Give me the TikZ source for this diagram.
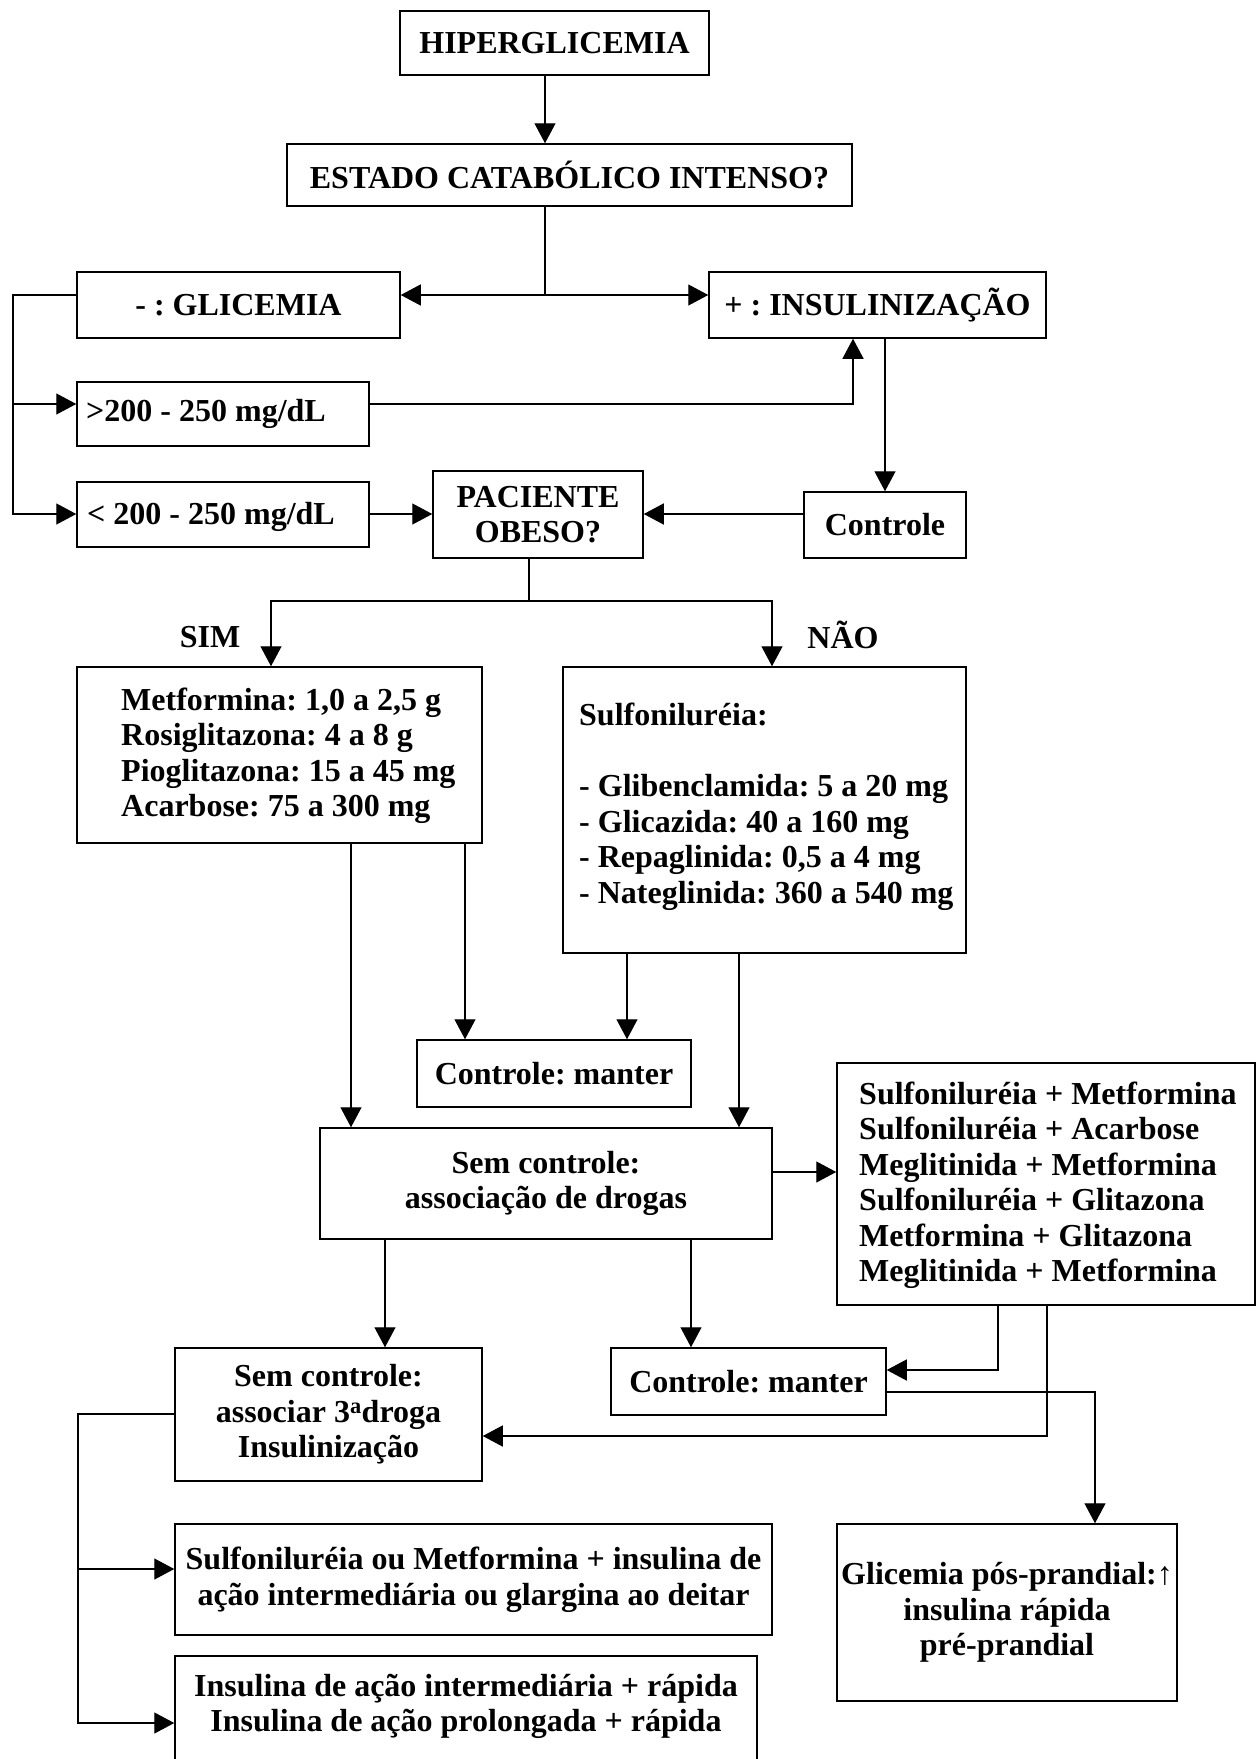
\documentclass[tikz,border=0pt]{standalone}
\usepackage{fontspec}
\setmainfont{Liberation Serif}
\usetikzlibrary{arrows.meta}
\frenchspacing
\begin{document}
\begin{tikzpicture}[x=1pt,y=-1pt,
  box/.style={draw, line width=1.5pt, inner sep=0pt, align=center, font=\bfseries\fontsize{32}{35.5}\selectfont},
  txt/.style={inner sep=0pt, align=left, font=\bfseries\fontsize{32}{35.5}\selectfont},
  conn/.style={line width=1.3pt},
  arr/.style={conn, -{Triangle[length=20pt,width=21pt]}},
]
\fill[white] (0,0) rectangle (1257,1759);
\useasboundingbox (0,0) rectangle (1257,1759);

% boxes
\node[box, minimum width=309pt, minimum height=64pt] (hip) at (554.5,43) {HIPERGLICEMIA};
\node[box, minimum width=565pt, minimum height=62pt] (est) at (569.5,175) {ESTADO CATABÓLICO INTENSO?};
\node[box, minimum width=323pt, minimum height=66pt] (glic) at (238.5,305) {- : GLICEMIA};
\node[box, minimum width=337pt, minimum height=66pt] (ins) at (877.5,305) {+ : INSULINIZAÇÃO};
\node[box, minimum width=292pt, minimum height=64pt] (gt) at (223,414) {};
\node[txt, anchor=west] (gttext) at (86,414) {>200 - 250 mg/dL};
\node[box, minimum width=292pt, minimum height=65pt] (lt) at (223,514.5) {};
\node[txt, anchor=west] (lttext) at (87,517) {< 200 - 250 mg/dL};
\node[box, minimum width=210pt, minimum height=87pt] (pac) at (538,514.5) {PACIENTE\\OBESO?};
\node[box, minimum width=162pt, minimum height=66pt] (ctl) at (885,525) {Controle};

\node[txt] (simlbl) at (210,637) {SIM};
\node[txt] (naolbl) at (843,635) {NÃO};

\node[box, minimum width=405pt, minimum height=176pt] (sim) at (279.5,755) {};
\node[txt, anchor=west] (simtext) at (121,756) {Metformina: 1,0 a 2,5 g\\Rosiglitazona: 4 a 8 g\\Pioglitazona: 15 a 45 mg\\Acarbose: 75 a 300 mg};
\node[box, minimum width=403pt, minimum height=286pt] (nao) at (764.5,810) {};
\node[txt, anchor=west] (naotext) at (579,807) {Sulfoniluréia:\\[35.5pt]- Glibenclamida: 5 a 20 mg\\- Glicazida: 40 a 160 mg\\- Repaglinida: 0,5 a 4 mg\\- Nateglinida: 360 a 540 mg};

\node[box, minimum width=274pt, minimum height=67pt] (man1) at (554,1073.5) {Controle: manter};
\node[box, minimum width=452pt, minimum height=111pt] (sem1) at (546,1183.5) {Sem controle:\\associação de drogas};
\node[box, minimum width=418pt, minimum height=242pt] (comb) at (1046,1184) {};
\node[txt, anchor=west] (combtext) at (859,1185) {Sulfoniluréia + Metformina\\Sulfoniluréia + Acarbose\\Meglitinida + Metformina\\Sulfoniluréia + Glitazona\\Metformina + Glitazona\\Meglitinida + Metformina};

\node[box, minimum width=307pt, minimum height=133pt] (sem2) at (328.5,1414.5) {Sem controle:\\associar 3\textsuperscript{a}droga\\Insulinização};
\node[box, minimum width=275pt, minimum height=67pt] (man2) at (748.5,1381.5) {Controle: manter};
\node[box, minimum width=340pt, minimum height=177pt] (pos) at (1007,1612.5) {Glicemia pós-prandial:↑\\insulina rápida\\pré-prandial};
\node[box, minimum width=597pt, minimum height=111pt] (sulf) at (473.5,1579.5) {Sulfoniluréia ou Metformina + insulina de\\ação intermediária ou glargina ao deitar};
\node[box, minimum width=582pt, minimum height=107pt] (insl) at (466,1709.5) {};
\node[txt, align=center] (insltext) at (466,1706.5) {Insulina de ação intermediária + rápida\\Insulina de ação prolongada + rápida};

% helper coordinates
\coordinate (c1) at (545,0);
\coordinate (j1) at (545,295);
\coordinate (l1) at (13,295);
\coordinate (l2) at (13,404);
\coordinate (l3) at (13,514);
\coordinate (r1) at (853,404);
\coordinate (r2) at (885,0);
\coordinate (m1) at (0,514);
\coordinate (p1) at (529,601);
\coordinate (p2) at (271,601);
\coordinate (p3) at (772,601);
\coordinate (q1) at (351,0);
\coordinate (q2) at (465,0);
\coordinate (q3) at (627,0);
\coordinate (q4) at (739,0);
\coordinate (s1) at (0,1172);
\coordinate (q5) at (385,0);
\coordinate (q6) at (691,0);
\coordinate (t1) at (998,1370);
\coordinate (t2) at (1047,1436);
\coordinate (t3) at (1095,1392);
\coordinate (u1) at (78,1414);
\coordinate (u2) at (78,1569);
\coordinate (u3) at (78,1723);

% connectors
\draw[arr] (hip.south -| c1) -- (est.north -| c1);
\draw[conn] (est.south -| j1) -- (j1);
\draw[arr] (j1) -- (glic.east |- j1);
\draw[arr] (j1) -- (ins.west |- j1);
\draw[arr] (glic.west |- l1) -- (l1) -- (l3) -- (lt.west |- l3);
\draw[arr] (l2) -- (gt.west |- l2);
\draw[arr] (gt.east |- r1) -- (r1) -- (ins.south -| r1);
\draw[arr] (ins.south -| r2) -- (ctl.north -| r2);
\draw[arr] (lt.east |- m1) -- (pac.west |- m1);
\draw[arr] (ctl.west |- m1) -- (pac.east |- m1);
\draw[conn] (pac.south -| p1) -- (p1);
\draw[arr] (p1) -- (p2) -- (sim.north -| p2);
\draw[arr] (p1) -- (p3) -- (nao.north -| p3);
\draw[arr] (sim.south -| q1) -- (sem1.north -| q1);
\draw[arr] (sim.south -| q2) -- (man1.north -| q2);
\draw[arr] (nao.south -| q3) -- (man1.north -| q3);
\draw[arr] (nao.south -| q4) -- (sem1.north -| q4);
\draw[arr] (sem1.east |- s1) -- (comb.west |- s1);
\draw[arr] (sem1.south -| q5) -- (sem2.north -| q5);
\draw[arr] (sem1.south -| q6) -- (man2.north -| q6);
\draw[arr] (comb.south -| t1) -- (t1) -- (man2.east |- t1);
\draw[arr] (comb.south -| t2) -- (t2) -- (sem2.east |- t2);
\draw[arr] (man2.east |- t3) -- (t3) -- (pos.north -| t3);
\draw[arr] (sem2.west |- u1) -- (u1) -- (u3) -- (insl.west |- u3);
\draw[arr] (u2) -- (sulf.west |- u2);
\end{tikzpicture}
\end{document}
